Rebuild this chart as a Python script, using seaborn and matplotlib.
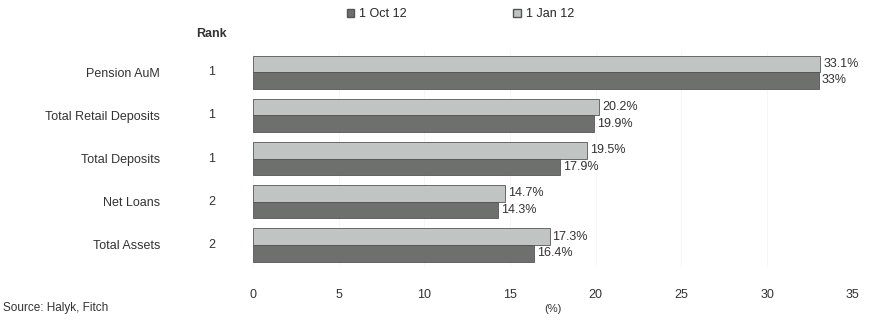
import pandas as pd
import seaborn as sns
import matplotlib
matplotlib.use('Agg')
import matplotlib.pyplot as plt
from matplotlib.patches import Patch

categories = ['Pension AuM', 'Total Retail Deposits', 'Total Deposits', 'Net Loans', 'Total Assets']
ranks = ['1', '1', '1', '2', '2']
jan12 = [33.1, 20.2, 19.5, 14.7, 17.3]
oct12 = [33.0, 19.9, 17.9, 14.3, 16.4]
jan_labels = ['33.1%', '20.2%', '19.5%', '14.7%', '17.3%']
oct_labels = ['33%', '19.9%', '17.9%', '14.3%', '16.4%']
xticks = [0, 5, 10, 15, 20, 25, 30, 35]

dark = '#6c706d'
light = '#c0c4c3'

db = pd.DataFrame({
    'category': categories * 2,
    'value': jan12 + oct12,
    'period': ['1 Jan 12'] * 5 + ['1 Oct 12'] * 5,
})

sns.set_style('white')
plt.rcParams['font.family'] = ['Liberation Sans', 'DejaVu Sans']

fig = plt.figure(figsize=(8.77, 3.2), dpi=100)
ax = fig.add_axes([0.2885, 0.167, 0.684, 0.675])

sns.barplot(data=db, y='category', x='value', hue='period', orient='h',
            order=categories, hue_order=['1 Jan 12', '1 Oct 12'],
            palette=[light, dark], width=0.77, edgecolor='#555555',
            linewidth=0.6, ax=ax, legend=False)

# value labels beside each bar
for cont, labels in zip(ax.containers, [jan_labels, oct_labels]):
    ax.bar_label(cont, labels=labels, padding=2, fontsize=9, color='#333333')

ax.set_xlim(0, 35)
ax.set_ylim(4.5, -0.5)
ax.set_xticks(xticks)
ax.set_xticklabels([str(t) for t in xticks], fontsize=9, color='#333333')
ax.tick_params(axis='x', length=0, pad=16)
ax.tick_params(axis='y', length=0, pad=67)
ax.set_yticks(range(len(categories)))
ax.set_yticklabels(categories, fontsize=9, color='#333333')
ax.set_ylabel('')
ax.set_xlabel('(%)', fontsize=8, color='#333333', labelpad=2)
ax.xaxis.grid(True, color='#f5f5f5', linewidth=0.6)
ax.set_axisbelow(True)
for s in ax.spines.values():
    s.set_visible(False)

# rank column
for i, r in enumerate(ranks):
    ax.text(-2.4, i, r, ha='center', va='center', fontsize=9, color='#333333')
ax.text(-2.4, -0.75, 'Rank', ha='center', va='bottom', fontsize=9,
        fontweight='bold', color='#333333')

handles = [Patch(facecolor=dark, edgecolor='#555555'), Patch(facecolor=light, edgecolor='#555555')]
fig.legend(handles, ['1 Oct 12', '1 Jan 12'], loc='center', bbox_to_anchor=(0.525, 0.955),
           ncol=2, frameon=False, fontsize=9, handlelength=0.6, handleheight=0.6,
           columnspacing=8.5, handletextpad=0.4)

fig.text(0.003, 0.028, 'Source: Halyk, Fitch', fontsize=8.5, color='#333333')

plt.savefig('out.png', dpi=100)
